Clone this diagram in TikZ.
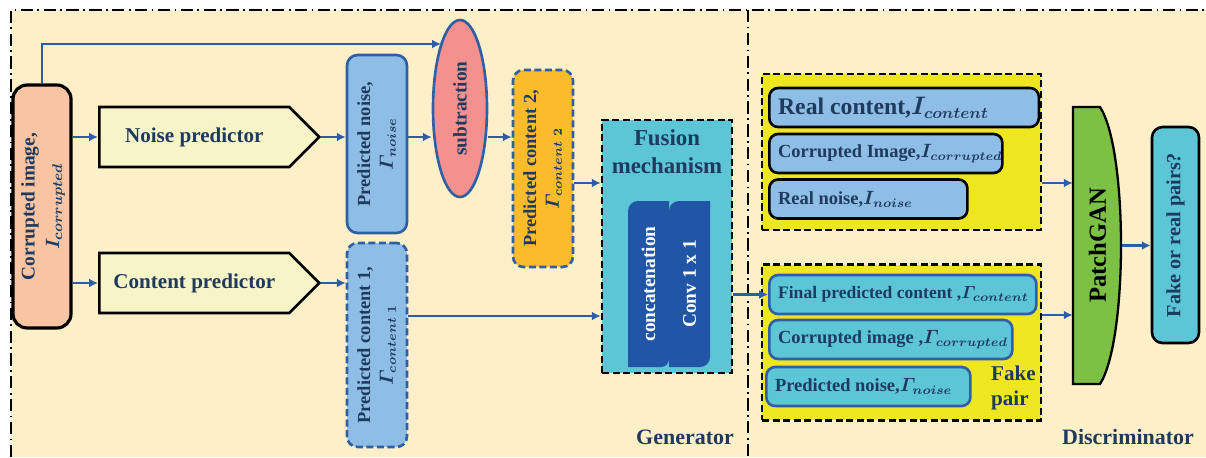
\documentclass[tikz,border=0pt]{standalone}
\usepackage{amsmath}
\usepackage{fontspec}
\setmainfont{Liberation Serif}
\usetikzlibrary{shapes.geometric,shapes.symbols,arrows.meta,positioning}

\definecolor{paper}{HTML}{FDF0C8}
\definecolor{peach}{HTML}{F8C4A1}
\definecolor{predfill}{HTML}{F7F5C8}
\definecolor{bluebox}{HTML}{8EBEE5}
\definecolor{boxblue}{HTML}{2F5FA7}
\definecolor{salmon}{HTML}{F4918F}
\definecolor{orangebox}{HTML}{FBBC2B}
\definecolor{cyanbox}{HTML}{5CC6D6}
\definecolor{darkblue}{HTML}{2155A5}
\definecolor{groupyellow}{HTML}{EDE621}
\definecolor{patchgreen}{HTML}{7CC143}
\definecolor{navy}{HTML}{1F3A5F}
\definecolor{arrowblue}{HTML}{2E5CA8}

\newcommand{\vtext}[1]{\rotatebox{90}{\begin{tabular}{@{}c@{}}#1\end{tabular}}}
\newcommand{\ptext}[2]{\makebox[#1][l]{#2}}
\newcommand{\G}{\varGamma}

\begin{document}
\begin{tikzpicture}[x=0.02cm,y=-0.02cm,
    every node/.style={text=navy},
    arr/.style={-{Latex[length=5pt,width=5pt]},draw=arrowblue,line width=1.2pt},
    dashdot/.style={draw=black,line width=0.8pt,dash pattern=on 7pt off 2.5pt on 1pt off 2.5pt},
    dashline/.style={dash pattern=on 4pt off 2pt},
    predictor/.style={signal,signal to=east,signal pointer angle=90,draw=black,line width=1.5pt,anchor=west,
        fill=predfill,minimum width=4.4cm,minimum height=1.2cm,font=\fontsize{12}{14}\bfseries},
    vbox/.style={draw=boxblue,line width=1.5pt,fill=#1,rounded corners=6pt,minimum width=1.2cm,
        inner sep=0pt,font=\fontsize{10.5}{13}\bfseries\boldmath},
    group/.style={draw=black,dashline,line width=1.5pt,fill=groupyellow,minimum width=5.58cm,minimum height=3.12cm},
    pairbox/.style={anchor=west,rounded corners=5pt,line width=1.5pt,minimum height=0.78cm,
        inner xsep=5pt,font=\fontsize{10.5}{13}\bfseries\boldmath},
    realpair/.style={pairbox,draw=black,fill=bluebox},
    fakepair/.style={pairbox,draw=boxblue,fill=cyanbox},
    title/.style={font=\fontsize{12.5}{15}\bfseries}]

\useasboundingbox (0,0) rectangle (1206,457);
\fill[paper] (11,10) rectangle (1206,457);
\draw[dashdot] (11,457) -- (11,10) -- (1206,10);
\draw[dashdot] (748,10) -- (748,457);

% generator
\node[draw=black,line width=1.8pt,fill=peach,rounded corners=8pt,minimum width=1.16cm,minimum height=4.86cm,
    inner sep=0pt,font=\fontsize{11}{14}\bfseries\boldmath] (corr) at (42,206.5) {\vtext{Corrupted\ image,\\$I_{corrupted}$}};
\node[predictor] (noisep) at (98,137) {Noise predictor};
\node[predictor] (contp) at (98,283) {Content predictor};
\node[vbox=bluebox,minimum height=3.56cm] (pnoise) at (377,144) {\vtext{Predicted noise,\\$\G_{noise}$}};
\node[vbox=bluebox,dashline,minimum height=4.08cm] (pc1) at (377,345) {\vtext{Predicted content 1,\\$\G_{content\ 1}$}};
\node[ellipse,draw=boxblue,line width=1.5pt,fill=salmon,minimum width=1.08cm,minimum height=3.54cm,
    inner sep=0pt,font=\fontsize{11}{13}\bfseries] (sub) at (460,108.5) {\rotatebox{90}{subtraction}};
\node[vbox=orangebox,dashline,minimum height=3.94cm] (pc2) at (543,168.5) {\vtext{Predicted content 2,\\$\G_{content\ 2}$}};

\node[draw=black,dashline,line width=1.5pt,fill=cyanbox,minimum width=2.6cm,minimum height=5.06cm] (fusion) at (667,246.5) {};
\node[title,align=center,font=\fontsize{13}{16}\bfseries] (fustitle) at (667,152) {Fusion\\mechanism};
\fill[darkblue] (628,367) -- (628,211) to[out=90,in=180] (638,201) -- (669,201) -- (669,359) to[out=-90,in=0] (661,367) -- cycle;
\fill[darkblue] (669,367) -- (669,211) to[out=90,in=180] (679,201) -- (710,201) -- (710,357) to[out=-90,in=0] (700,367) -- cycle;
\node[text=white,font=\fontsize{11}{13}\bfseries] (concat) at (648.5,284) {\rotatebox{90}{concatenation}};
\node[text=white,font=\fontsize{11}{13}\bfseries] (conv) at (689.5,284) {\rotatebox{90}{Conv 1 x 1}};
\node[title] (gen) at (685,437) {Generator};

% discriminator
\node[group] (realgrp) at (901.5,152) {};
\node[realpair,font=\fontsize{13.5}{15}\bfseries\boldmath] (rc) at (768,107.5) {\ptext{5.04cm}{Real content,$I_{content}$}};
\node[realpair] (ci) at (768,153.5) {\ptext{4.31cm}{Corrupted Image,$I_{corrupted}$}};
\node[realpair] (rn) at (768,199) {\ptext{3.61cm}{Real noise,$I_{noise}$}};

\node[group] (fakegrp) at (901.5,342.5) {};
\node[fakepair,font=\fontsize{10}{13}\bfseries\boldmath] (fpc) at (768,294.5) {\ptext{4.99cm}{Final predicted content ,$\G_{content}$}};
\node[fakepair] (cim) at (768,339.5) {\ptext{4.51cm}{Corrupted image ,$\G_{corrupted}$}};
\node[fakepair] (pn) at (765,386.5) {\ptext{3.73cm}{Predicted noise,$\G_{noise}$}};
\node[title,anchor=west,align=left,font=\fontsize{12}{14}\bfseries] (fakelbl) at (985,388) {Fake\\pair};

\draw[fill=patchgreen,line width=1.3pt] (1073,107) -- (1100,107) .. controls (1128,150) and (1128,340) .. (1100,384) -- (1073,384) -- cycle;
\node[minimum width=0.98cm,minimum height=5.54cm,text=black,font=\fontsize{14}{16}\bfseries] (patch) at (1097.5,245.5) {\rotatebox{90}{PatchGAN}};
\node[vbox=cyanbox,draw=black,minimum width=0.94cm,minimum height=4.32cm,font=\fontsize{11.5}{14}\bfseries] (out) at (1175.5,235) {\rotatebox{90}{Fake or real pairs?}};
\node[title] (disc) at (1128,437) {Discriminator};

% connections
\coordinate (tap) at (42,44);
\draw[arr] (corr.north -| tap) -- (tap) -- (tap -| sub.106);
\draw[arr] (corr.east |- noisep.west) -- (noisep.west);
\draw[arr] (corr.east |- contp.west) -- (contp.west);
\draw[arr] (noisep.east) -- (pnoise.west |- noisep.east);
\draw[arr] (contp.east) -- (pc1.west |- contp.east);
\draw[arr] (pnoise.east |- noisep.east) -- (sub.west |- noisep.east);
\draw[arr] (sub.east |- noisep.east) -- (pc2.west |- noisep.east);
\draw[arr] ([yshift=-0.29cm]pc2.east) -- ([yshift=-0.29cm]pc2.east -| fusion.west);
\draw[arr] ([yshift=0.58cm]pc1.east) -- ([yshift=0.58cm]pc1.east -| fusion.west);
\draw[arr] (fpc.west -| fusion.east) -- (fpc.west);
\draw[arr] ([yshift=-0.62cm]realgrp.east) -- ([yshift=-0.62cm]realgrp.east -| patch.west);
\draw[arr] ([yshift=0.55cm]fakegrp.east) -- ([yshift=0.55cm]fakegrp.east -| patch.west);
\draw[arr] (patch.east) -- (patch.east -| out.west);
\end{tikzpicture}
\end{document}
